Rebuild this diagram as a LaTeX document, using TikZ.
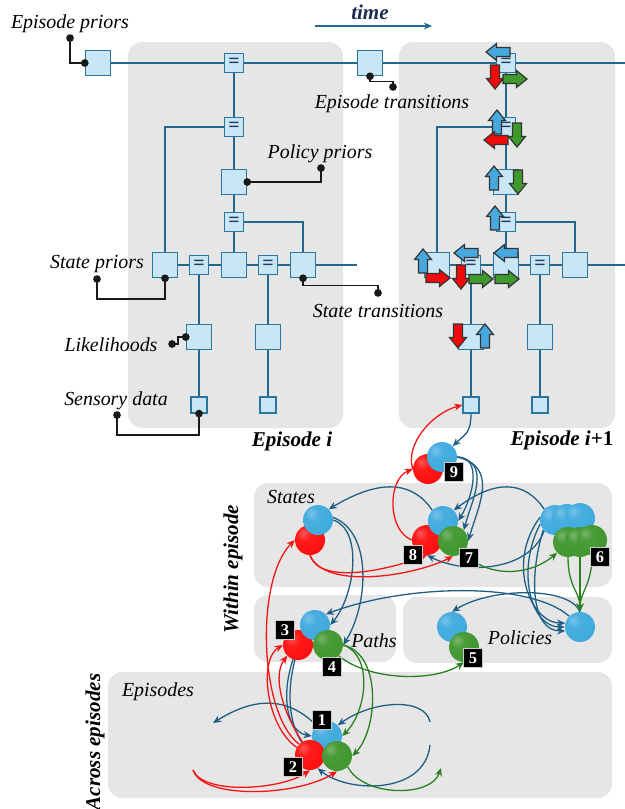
\documentclass[tikz,border=0pt]{standalone}
\usepackage{fontspec}
\setmainfont{Liberation Serif}
\usetikzlibrary{arrows.meta}
\definecolor{wireblue}{RGB}{34,104,142}
\definecolor{facfill}{RGB}{200,230,245}
\definecolor{facedge}{RGB}{42,118,158}
\definecolor{panelgray}{RGB}{230,230,230}
\definecolor{navy}{RGB}{28,45,78}
\definecolor{cblue}{RGB}{30,94,132}
\definecolor{cred}{RGB}{245,20,20}
\definecolor{cgreen}{RGB}{40,128,30}
\definecolor{msgblue}{RGB}{70,168,220}
\definecolor{msgred}{RGB}{240,10,10}
\definecolor{msggreen}{RGB}{62,154,44}
\definecolor{sphblue}{RGB}{62,170,222}
\definecolor{sphred}{RGB}{255,14,14}
\definecolor{sphgreen}{RGB}{64,150,46}
\colorlet{sphcol}{sphblue}
\pgfdeclareradialshading[sphcol]{sph}{\pgfpoint{-12bp}{12bp}}{%
  color(0bp)=(sphcol!70!white); color(12bp)=(sphcol!95!white);
  color(34bp)=(sphcol); color(52bp)=(sphcol!80!black); color(70bp)=(sphcol!55!black)}
\newcommand\figfont{\fontsize{17}{19}\selectfont}
\pgfdeclarelayer{panel}
\pgfdeclarelayer{bg}
\pgfsetlayers{panel,bg,main}
\tikzset{
  panel/.style={fill=panelgray, rounded corners=0.42cm},
  wire/.style={draw=wireblue, line width=1.3pt},
  fac/.style={draw=facedge, fill=facfill, line width=1.2pt, minimum size=0.75cm, inner sep=0pt},
  eqf/.style={fac, minimum size=0.56cm, text=navy!80!facedge, font=\fontsize{17}{17}\selectfont\bfseries},
  obs/.style={fac, minimum size=0.47cm},
  lead/.style={draw=black!90, line width=1.2pt, {Circle[length=6.5pt]}-{Circle[length=6.5pt]}, shorten <=-3.2pt, shorten >=-3.2pt},
  lbl/.style={font=\figfont\itshape},
  head/.style={font=\fontsize{18}{20}\selectfont\bfseries\itshape},
  msg/.pic={\path[pic actions] (-12,-4.5) -- (1.5,-4.5) -- (1.5,-8.5) -- (12,0) -- (1.5,8.5) -- (1.5,4.5) -- (-12,4.5) -- cycle;},
  mb/.style={draw=black!80, line width=1pt, fill=msgblue},
  mr/.style={draw=black!80, line width=1pt, fill=msgred},
  mg/.style={draw=black!80, line width=1pt, fill=msggreen},
  ball/.style={circle, inner sep=0pt, minimum size=0.9cm, /utils/exec={\colorlet{sphcol}{#1}}, shading=sph},
  numbox/.style={fill=black, draw=white!80!black, line width=0.6pt, text=white, inner sep=0pt, minimum size=0.57cm, font=\fontsize{14}{14}\selectfont\bfseries},
  cb/.style={draw=cblue, line width=1.1pt, ->},
  cr/.style={draw=cred, line width=1.1pt, ->},
  cg/.style={draw=cgreen, line width=1.1pt, ->}
}
\begin{document}
\begin{tikzpicture}[x=0.03cm,y=-0.03cm,font=\figfont,>={Stealth[length=7pt,width=6pt]}]
\useasboundingbox (0,0) rectangle (625,809);

% grey panels
\begin{pgfonlayer}{panel}
  \fill[panel] (128,42) rectangle (343,428);
  \fill[panel] (399,42) rectangle (615,428);
  \fill[panel] (254,483) rectangle (612,587);
  \fill[panel] (254,595) rectangle (396,662);
  \fill[panel] (403,597) rectangle (612,663);
  \fill[panel] (108,672) rectangle (612,798);
\end{pgfonlayer}

% time
\node[head, text=navy] (time) at (370,12) {time};
\coordinate (t0) at (315,26);
\coordinate (t1) at (432,26);
\draw[wire,->] (t0) -- (t1);

% factor graph, episode i and episode i+1
\node[fac] (epr) at (98,63) {};
\node[fac] (et) at (370,63) {};
\begin{pgfonlayer}{bg}
  \draw[wire] (epr) -- (625,63);
\end{pgfonlayer}
\foreach \p/\dx/\rx in {a/0/357, b/272/625}{
  \node[eqf] (\p e1) at (234+\dx,63) {=};
  \node[eqf] (\p e2) at (234+\dx,127) {=};
  \node[fac] (\p pp) at (234+\dx,182) {};
  \node[eqf] (\p e3) at (234+\dx,222) {=};
  \node[fac] (\p sp) at (165+\dx,265) {};
  \node[eqf] (\p e4) at (199+\dx,265) {=};
  \node[fac] (\p sm) at (234+\dx,265) {};
  \node[eqf] (\p e5) at (268+\dx,265) {=};
  \node[fac] (\p st) at (303+\dx,265) {};
  \node[fac] (\p li) at (199+\dx,337) {};
  \node[fac] (\p l2) at (268+\dx,337) {};
  \node[obs] (\p so) at (199+\dx,405) {};
  \node[obs] (\p o2) at (268+\dx,405) {};
  \begin{pgfonlayer}{bg}
    \draw[wire] (\p e1) -- (\p e2) -- (\p pp) -- (\p e3) -- (\p sm);
    \draw[wire] (\p e2) -| (\p sp);
    \draw[wire] (\p e3) -| (\p st);
    \draw[wire] (\p sp) -- (\p e4) -- (\p sm) -- (\p e5) -- (\p st) -- (\rx,265);
    \draw[wire] (\p e4) -- (\p li) -- (\p so);
    \draw[wire] (\p e5) -- (\p l2) -- (\p o2);
  \end{pgfonlayer}
}

% labels and their leads
\node[lbl] (tEP) at (70,24) {Episode priors};
\node[lbl] (tET) at (392,104) {Episode transitions};
\node[lbl] (tPP) at (320,154) {Policy priors};
\node[lbl] (tSP) at (97,264) {State priors};
\node[lbl] (tST) at (378,311) {State transitions};
\node[lbl] (tLI) at (111,345) {Likelihoods};
\node[lbl] (tSD) at (116,401) {Sensory data};
\coordinate (dEP) at (70,38);
\coordinate (dET) at (393,87);
\coordinate (dPP) at (321,168);
\coordinate (dSP) at (97,279);
\coordinate (dST) at (378,293);
\coordinate (dLI) at (172,344);
\coordinate (dSD) at (117,415);
\draw[lead] (dEP) |- (epr.west);
\draw[lead] (et.south) -- ++(0,5) -| (dET);
\draw[lead] (app.east) -| (dPP);
\draw[lead] (dSP) -- ++(0,20) -| (asp.south);
\draw[lead] (ast.south) -- ++(0,7) -| (dST);
\draw[lead] (dLI) -- ++(6,0) |- (ali.west);
\draw[lead] (dSD) -- ++(0,20) -| (aso.south);

\node[head] (epa) at (292,441) {Episode i};
\node[head] (epb) at (562,440) {Episode i\textup{+1}};

% messages in episode i+1
\pic[mb, rotate=180] at (498,52) {msg};
\pic[mr, rotate=-90] at (495,77) {msg};
\pic[mg] at (515,79) {msg};
\pic[mb, rotate=90] at (497,122) {msg};
\pic[mg, rotate=-90] at (517,135) {msg};
\pic[mr, rotate=180] at (496,140) {msg};
\pic[mb, rotate=90] at (494,178) {msg};
\pic[mg, rotate=-90] at (518,182) {msg};
\pic[mb, rotate=90] at (495,218) {msg};
\pic[mb, rotate=90] at (423,261) {msg};
\pic[mr] at (438,278) {msg};
\pic[mb, rotate=180] at (466,253) {msg};
\pic[mr, rotate=-90] at (461,277) {msg};
\pic[mg] at (481,279) {msg};
\pic[mb, rotate=180] at (506,253) {msg};
\pic[mg] at (507,279) {msg};
\pic[mr, rotate=-90] at (458,336) {msg};
\pic[mb, rotate=90] at (485,336) {msg};

% lower graph
\node[head, rotate=90] (within) at (233,569) {Within episode};
\node[head, rotate=90] (across) at (95,742) {Across episodes};
\node[lbl] (tS) at (291,497) {States};
\node[lbl] (tP) at (374,641) {Paths};
\node[lbl] (tQ) at (520,638) {Policies};
\node[lbl] (tE) at (158,692) {Episodes};

\node[ball=sphred] (b9r) at (428,469) {};
\node[ball=sphblue] (b9b) at (442,457) {};
\node[ball=sphred] (s1r) at (310,540) {};
\node[ball=sphblue] (s1b) at (318,520) {};
\node[ball=sphred] (s2r) at (427,540) {};
\node[ball=sphblue] (s2b) at (443,521) {};
\node[ball=sphgreen] (s2g) at (453,541) {};
\node[ball=sphblue] (s3b1) at (555,520) {};
\node[ball=sphblue] (s3b2) at (567,519) {};
\node[ball=sphblue] (s3b3) at (580,518) {};
\node[ball=sphgreen] (s3g1) at (568,542) {};
\node[ball=sphgreen] (s3g2) at (580,542) {};
\node[ball=sphgreen] (s3g3) at (592,540) {};
\node[ball=sphred] (pr) at (298,645) {};
\node[ball=sphblue] (pb) at (315,625) {};
\node[ball=sphgreen] (pg) at (328,645) {};
\node[ball=sphblue] (qb) at (452,627) {};
\node[ball=sphgreen] (qg) at (464,647) {};
\node[ball=sphblue] (qr) at (580,627) {};
\node[ball=sphblue] (eb) at (327,736) {};
\node[ball=sphred] (er) at (310,755) {};
\node[ball=sphgreen] (eg) at (337,756) {};

\node[numbox] (n1) at (322,720) {1};
\node[numbox] (n2) at (293,767) {2};
\node[numbox] (n3) at (285,630) {3};
\node[numbox] (n4) at (332,667) {4};
\node[numbox] (n5) at (473,658) {5};
\node[numbox] (n6) at (600,557) {6};
\node[numbox] (n7) at (469,558) {7};
\node[numbox] (n8) at (413,555) {8};
\node[numbox] (n9) at (454,472) {9};

\coordinate (fl1) at (213,723);
\coordinate (fr1) at (430,722);
\coordinate (fr2) at (430,745);
\coordinate (fl2) at (193,770);
\coordinate (fr3) at (441,768);

\begin{pgfonlayer}{bg}
  % blue
  \draw[cb] (bso.south) .. controls +(0,20) and +(12,-12) .. (b9b.north east);
  \draw[cb] (b9b.east) .. controls +(25,0) and +(15,-25) .. (s2b.east);
  \draw[cb] (b9b.east) .. controls +(35,5) and +(8,-30) .. (s2g.north east);
  \draw[cb] (b9b.east) .. controls +(42,10) and +(10,-35) .. (s2g.east);
  \draw[cb] (s2b.north west) .. controls +(-20,-30) and +(50,-30) .. (s1b.north east);
  \draw[cb] (s3b1.north west) .. controls +(-20,-30) and +(40,-30) .. (s2b.north east);
  \draw[cb] (s3b1.south west) .. controls +(-15,40) and +(40,20) .. (s2r.south);
  \foreach \a/\c/\e in {170/-34/165, 195/-24/180, 220/-14/195}
    \draw[cb] (s3b1.\a) .. controls +(\c,45) and +(-35,0) .. (qr.\e);
  \draw[cb] (qr.north west) .. controls +(-40,-35) and +(80,-30) .. (pb.north east);
  \draw[cb] (qr.north) .. controls +(-10,-25) and +(40,-25) .. (qb.north);
  \draw[cb] (s1b.east) .. controls +(30,10) and +(25,-30) .. (pb.east);
  \draw[cb] (s1b.10) .. controls +(40,15) and +(25,-40) .. (pg.east);
  \draw[cb] (pb.south west) .. controls +(-25,40) and +(-30,-5) .. (eb.west);
  \draw[cb] (pb.220) .. controls +(-25,60) and +(-30,-10) .. (eg.west);
  \draw[cb] (eb.north west) .. controls +(-30,-30) and +(40,-25) .. (fl1);
  \draw[cb] (fr1) .. controls +(-5,-25) and +(35,-25) .. (eb.north east);
  \draw[cb] (fr2) .. controls +(-5,50) and +(30,25) .. (er.-60);
  % red
  \draw[cr] (b9r.west) .. controls +(-8,-25) and +(-30,8) .. (bso.west);
  \draw[cr] (s2r.west) .. controls +(-25,-10) and +(-25,10) .. (b9r.west);
  \draw[cr] (s1r.south) .. controls +(10,30) and +(-40,15) .. (s2r.south);
  \draw[cr] (s1r.south) .. controls +(15,35) and +(-40,20) .. (s2g.south);
  \draw[cr] (er.north west) .. controls +(-40,-30) and +(-40,40) .. (s1r.west);
  \draw[cr] (er.150) .. controls +(-30,-20) and +(-25,15) .. (pr.west);
  \draw[cr] (er.120) .. controls +(-20,-30) and +(-15,20) .. (pr.south west);
  \draw[cr] (fl2) .. controls +(10,25) and +(-30,20) .. (er.south);
  \draw[cr] (fl2) .. controls +(10,30) and +(-40,25) .. (eg.south);
  % green
  \draw[cg] (s2g.south east) .. controls +(20,25) and +(-30,25) .. (s3g1.south west);
  \foreach \i in {1,2,3}
    \draw[cg] (s3g\i.south) .. controls +(0,30) and +(0,-20) .. (qr.north);
  \draw[cg] (pg.south east) .. controls +(30,25) and +(-30,20) .. (qg.south);
  \draw[cg] (pg.east) .. controls +(30,10) and +(25,-25) .. (eb.east);
  \draw[cg] (pg.east) .. controls +(40,10) and +(25,-25) .. (eg.east);
  \draw[cg] (eg.south east) .. controls +(15,30) and +(-10,30) .. (fr3);
\end{pgfonlayer}
\end{tikzpicture}
\end{document}
